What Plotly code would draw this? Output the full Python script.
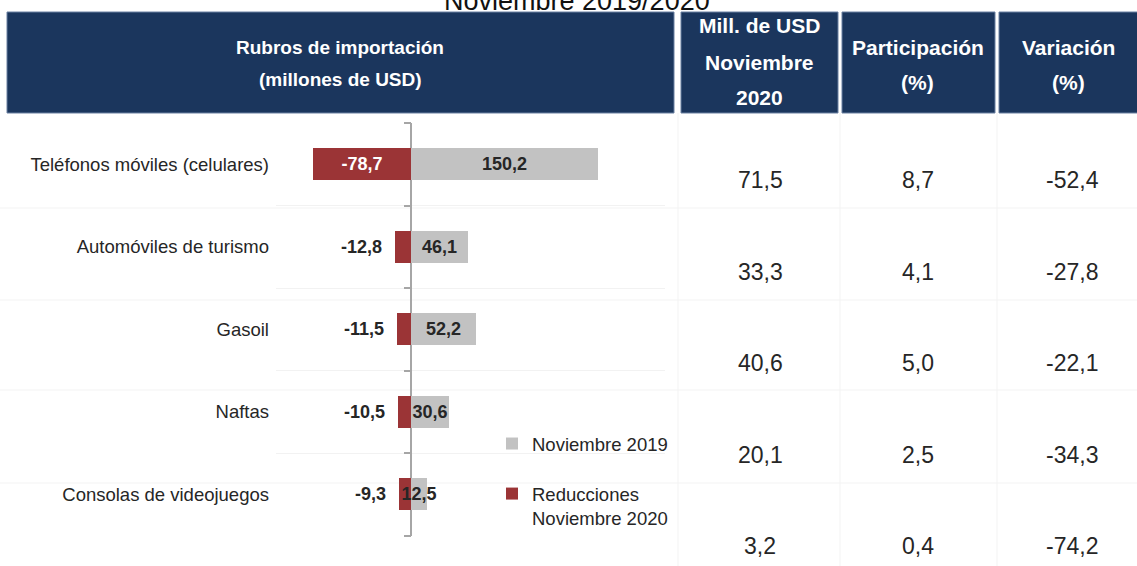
import plotly.graph_objects as go

W, H = 1137, 566

# ---------------- data ----------------
categories = ["Teléfonos móviles (celulares)", "Automóviles de turismo", "Gasoil",
              "Naftas", "Consolas de videojuegos"]
nov_2019 = [150.2, 46.1, 52.2, 30.6, 12.5]
reducciones_2020 = [-78.7, -12.8, -11.5, -10.5, -9.3]
mill_usd_nov_2020 = [71.5, 33.3, 40.6, 20.1, 3.2]
participacion = [8.7, 4.1, 5.0, 2.5, 0.4]
variacion = [-52.4, -27.8, -22.1, -34.3, -74.2]

series_red = "Reducciones<br>Noviembre 2020"
series_gray = "Noviembre 2019"
title_text = "Noviembre 2019/2020"
header_left = ["Rubros de importación", "(millones de USD)"]
header_cols = [["Mill. de USD", "Noviembre", "2020"],
               ["Participación", "(%)"],
               ["Variación", "(%)"]]

# ---------------- style ----------------
FONT = "Liberation Sans, Arial, sans-serif"
NAVY = "#1b365d"
RED = "#9b3436"
GRAY = "#c2c2c2"
TXT = "#262626"


def fx(p):
    return p / W


def fy(p):
    return 1 - p / H


def fmt(v):
    return f"{v:.1f}".replace(".", ",")


# bar plot geometry (pixels)
dom_l, dom_r = 276, 665
zero_px, px_per_unit = 411, 1.245
dom_t, dom_b = 123, 535.5
x_range = [(dom_l - zero_px) / px_per_unit, (dom_r - zero_px) / px_per_unit]
n = len(categories)
y_range = [n - 0.5, -0.5]
boundaries = [i - 0.5 for i in range(n + 1)]

fig = go.Figure()

red_pos = ["inside" if abs(v) >= 40 else "outside" for v in reducciones_2020]
red_text = [fmt(v) if p == "inside" else fmt(v) + "\u00a0\u00a0"
            for v, p in zip(reducciones_2020, red_pos)]

fig.add_trace(go.Bar(
    y=categories, x=reducciones_2020, orientation="h", name=series_red,
    marker=dict(color=RED, line=dict(width=0)), width=0.39,
    text=red_text, textposition=red_pos, textangle=0, constraintext="none",
    insidetextanchor="middle",
    insidetextfont=dict(family=FONT, size=18, color="white", weight="bold"),
    outsidetextfont=dict(family=FONT, size=18, color=TXT, weight="bold"),
    legendgroup="r", legendrank=2, hoverinfo="skip", cliponaxis=False,
))
fig.add_trace(go.Bar(
    y=categories, x=nov_2019, orientation="h", name=series_gray,
    marker=dict(color=GRAY, line=dict(width=0)), width=0.39,
    text=[fmt(v) for v in nov_2019], textposition="inside", textangle=0,
    constraintext="none", insidetextanchor="middle",
    insidetextfont=dict(family=FONT, size=18, color=TXT, weight="bold"),
    legendgroup="g", legendrank=1, hoverinfo="skip", cliponaxis=False,
))

# header boxes
shapes = []
for (x0, x1) in [(7, 674), (681, 838), (842, 995), (999, 1145)]:
    shapes.append(dict(type="rect", xref="paper", yref="paper",
                       x0=fx(x0), x1=fx(x1), y0=fy(113), y1=fy(12),
                       fillcolor=NAVY, line=dict(color="#6a80a2", width=1)))
# faint table separators
for yy in [208, 300, 390, 483]:
    shapes.append(dict(type="line", xref="paper", yref="paper", layer="below",
                       x0=fx(0), x1=fx(W), y0=fy(yy), y1=fy(yy),
                       line=dict(color="#f3f3f3", width=1)))
for xx in [678, 840, 997]:
    shapes.append(dict(type="line", xref="paper", yref="paper", layer="below",
                       x0=fx(xx), x1=fx(xx), y0=fy(113), y1=fy(H),
                       line=dict(color="#f3f3f3", width=1)))

ann = []
# title (cut off at top, as in the reference)
ann.append(dict(text=title_text, x=fx(577), y=fy(1), xref="paper", yref="paper",
                xanchor="center", yanchor="middle", showarrow=False,
                font=dict(family=FONT, size=27, color="#111")))
# left header
for txt, yy in zip(header_left, [47, 79]):
    ann.append(dict(text=txt, x=fx(340), y=fy(yy), xref="paper", yref="paper",
                    xanchor="center", yanchor="middle", showarrow=False,
                    font=dict(family=FONT, size=19, color="white", weight="bold")))
col_x = [759, 918, 1068]
col_line_y = [[26, 62, 97], [47, 83], [47, 83]]
for cx, lines, ys in zip(col_x, header_cols, col_line_y):
    for txt, yy in zip(lines, ys):
        ann.append(dict(text=txt, x=fx(cx), y=fy(yy), xref="paper", yref="paper",
                        xanchor="center", yanchor="middle", showarrow=False,
                        font=dict(family=FONT, size=21, color="white", weight="bold")))
# table values
row_y = [180, 272, 363, 455, 546]
for cx, col in zip([760, 918, 1072], [mill_usd_nov_2020, participacion, variacion]):
    for v, yy in zip(col, row_y):
        ann.append(dict(text=fmt(v), x=fx(cx), y=fy(yy), xref="paper", yref="paper",
                        xanchor="center", yanchor="middle", showarrow=False,
                        font=dict(family=FONT, size=23, color=TXT)))

fig.update_layout(
    width=W, height=H, margin=dict(l=0, r=0, t=0, b=0),
    paper_bgcolor="white", plot_bgcolor="white",
    barmode="overlay", bargap=0,
    font=dict(family=FONT, color=TXT),
    xaxis=dict(domain=[fx(dom_l), fx(dom_r)], range=x_range, showticklabels=False,
               showgrid=False, zeroline=True, zerolinecolor="#a6a6a6", zerolinewidth=1.5,
               fixedrange=True),
    yaxis=dict(domain=[fy(dom_b), fy(dom_t)], type="category",
               categoryorder="array", categoryarray=categories, range=y_range,
               showgrid=False, ticks="", showline=False, ticklabelstandoff=6,
               tickfont=dict(family=FONT, size=18.5, color=TXT)),
    yaxis2=dict(overlaying="y", anchor="free", position=fx(zero_px), side="left",
                range=y_range, tickvals=boundaries, showticklabels=False,
                ticks="outside", ticklen=7, tickcolor="#a6a6a6", tickwidth=1.5,
                showgrid=True, gridcolor="#f2f2f2", zeroline=False, showline=False),
    legend=dict(x=fx(492), y=fy(425), xanchor="left", yanchor="top",
                traceorder="grouped", tracegroupgap=23, valign="top",
                font=dict(family=FONT, size=18.5, color=TXT), bgcolor="rgba(0,0,0,0)"),
    showlegend=True,
    shapes=shapes, annotations=ann,
)
# invisible helper trace so that yaxis2 (category boundary ticks) is drawn
fig.add_trace(go.Scatter(x=[None], y=[None], yaxis="y2", showlegend=False, hoverinfo="skip"))

fig.write_html("out.html", config={"displayModeBar": False},
               post_script="document.body.style.margin='0px';")
